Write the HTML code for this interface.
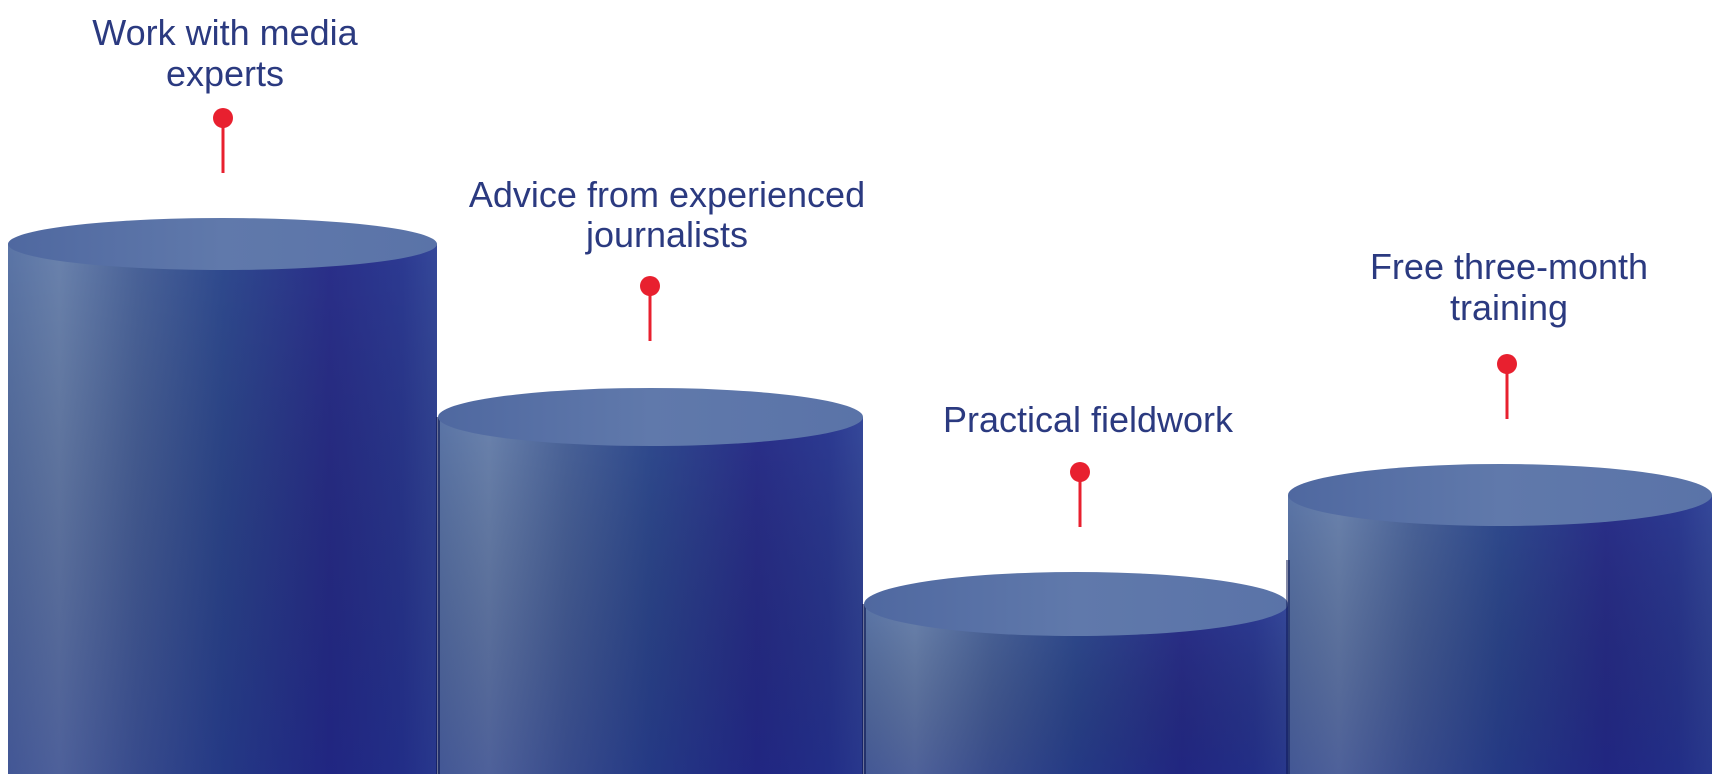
<!DOCTYPE html>
<html><head><meta charset="utf-8"><style>
html,body{margin:0;padding:0;background:#fff;}
svg{display:block}
text{font-family:"Liberation Sans",sans-serif;fill:#2b3a80;font-size:36px;text-anchor:middle}
</style></head><body>
<svg width="1724" height="774" viewBox="0 0 1724 774" xmlns="http://www.w3.org/2000/svg">
<defs>
<linearGradient id="body" x1="0" x2="1" y1="0" y2="0">
<stop offset="0" stop-color="#5a74a6"/>
<stop offset="0.12" stop-color="#6a82ad"/>
<stop offset="0.3" stop-color="#4a6399"/>
<stop offset="0.5" stop-color="#2f4a8f"/>
<stop offset="0.75" stop-color="#2a2f8a"/>
<stop offset="0.92" stop-color="#2c3a92"/>
<stop offset="1" stop-color="#35489a"/>
</linearGradient>
<linearGradient id="body2" x1="0" x2="0" y1="0" y2="1">
<stop offset="0" stop-color="#000" stop-opacity="0"/>
<stop offset="1" stop-color="#0a1070" stop-opacity="0.3"/>
</linearGradient>
<linearGradient id="top" x1="0" x2="1">
<stop offset="0" stop-color="#4f68a0"/>
<stop offset="0.5" stop-color="#6079ab"/>
<stop offset="1" stop-color="#5a73a8"/>
</linearGradient>
</defs>
<rect x="8" y="244" width="429" height="540" fill="url(#body)"/>
<rect x="8" y="244" width="429" height="540" fill="url(#body2)"/>
<ellipse cx="222.5" cy="244" rx="214.5" ry="26" fill="url(#top)"/>
<rect x="438" y="417" width="425" height="370" fill="url(#body)"/>
<rect x="438" y="417" width="425" height="370" fill="url(#body2)"/>
<rect x="436" y="417" width="4" height="370" fill="#0c1550" opacity="0.6"/>
<ellipse cx="650.5" cy="417" rx="212.5" ry="29" fill="url(#top)"/>
<rect x="864" y="604" width="424" height="180" fill="url(#body)"/>
<rect x="864" y="604" width="424" height="180" fill="url(#body2)"/>
<rect x="862" y="604" width="4" height="180" fill="#0c1550" opacity="0.6"/>
<ellipse cx="1076" cy="604" rx="212" ry="32" fill="url(#top)"/>
<rect x="1288" y="495" width="424" height="290" fill="url(#body)"/>
<rect x="1288" y="495" width="424" height="290" fill="url(#body2)"/>
<rect x="1286" y="560" width="4" height="220" fill="#0c1550" opacity="0.5"/>
<ellipse cx="1500" cy="495" rx="212" ry="31" fill="url(#top)"/>
<g fill="#e8202f" stroke="#e8202f">
<line x1="223" y1="118" x2="223" y2="173" stroke-width="3"/><circle cx="223" cy="118" r="10" stroke="none"/>
<line x1="650" y1="286" x2="650" y2="341" stroke-width="3"/><circle cx="650" cy="286" r="10" stroke="none"/>
<line x1="1080" y1="472" x2="1080" y2="527" stroke-width="3"/><circle cx="1080" cy="472" r="10" stroke="none"/>
<line x1="1507" y1="364" x2="1507" y2="419" stroke-width="3"/><circle cx="1507" cy="364" r="10" stroke="none"/>
</g>
<text x="225" y="45">Work with media</text>
<text x="225" y="86">experts</text>
<text x="667" y="207">Advice from experienced</text>
<text x="667" y="247">journalists</text>
<text x="1088" y="432">Practical fieldwork</text>
<text x="1509" y="279">Free three-month</text>
<text x="1509" y="320">training</text>
</svg>
</body></html>
